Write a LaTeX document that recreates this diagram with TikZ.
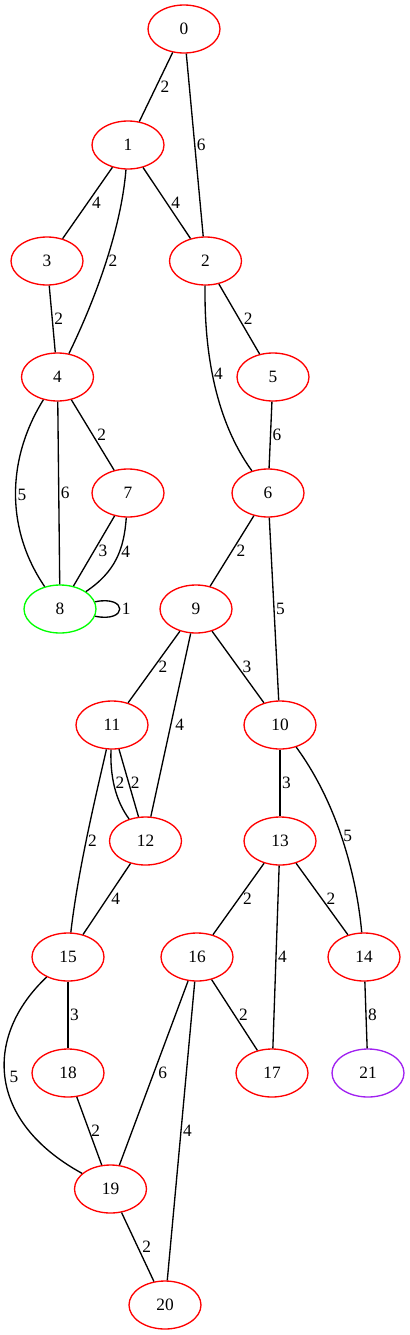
\documentclass[tikz,border=0pt]{standalone}
\usepackage{fontspec}
\setmainfont{Liberation Serif}
\usetikzlibrary{shapes.geometric}
\definecolor{gvred}{RGB}{255,0,0}
\definecolor{gvgreen}{RGB}{0,255,0}
\definecolor{gvpurple}{RGB}{160,32,240}

\begin{document}
\begin{tikzpicture}[x=0.75pt,y=-0.75pt,line width=1pt,font=\fontsize{13}{13}\selectfont,
    vertex/.style={draw=gvred, ellipse, minimum width=54pt, minimum height=36pt, inner sep=0pt},
    wt/.style={anchor=west, inner sep=1pt},
    wtd/.style={anchor=west, inner sep=3pt}]
    \useasboundingbox (0,0) rectangle (410,1335);

    \node[vertex] (0) at (184,29) {0};
    \node[vertex] (1) at (128,145) {1};
    \node[vertex] (3) at (47,261) {3};
    \node[vertex] (2) at (205.5,261) {2};
    \node[vertex] (4) at (57.5,377) {4};
    \node[vertex] (5) at (273,377) {5};
    \node[vertex] (7) at (128,493) {7};
    \node[vertex] (6) at (268,493) {6};
    \node[vertex, draw=gvgreen] (8) at (60,609) {8};
    \node[vertex] (9) at (196,609) {9};
    \node[vertex] (11) at (112,725) {11};
    \node[vertex] (10) at (280,725) {10};
    \node[vertex] (12) at (145.5,841) {12};
    \node[vertex] (13) at (280,841) {13};
    \node[vertex] (15) at (68,957) {15};
    \node[vertex] (16) at (197,957) {16};
    \node[vertex] (14) at (364,957) {14};
    \node[vertex] (18) at (68,1073) {18};
    \node[vertex] (17) at (272,1073) {17};
    \node[vertex, draw=gvpurple] (21) at (368,1073) {21};
    \node[vertex] (19) at (110.5,1189) {19};
    \node[vertex] (20) at (165,1305) {20};

    \draw (0) -- node[wtd] {2} (1);
    \draw (0) -- node[wt] {6} (2);
    \draw (1) -- node[wtd] {4} (3);
    \draw (1) -- node[wtd] {4} (2);
    \draw (1) .. controls (121,230) and (95,300) .. (4) node[wt, pos=0.48] {2};
    \draw (3) -- node[wt] {2} (4);
    \draw (2) -- node[wtd] {2} (5);
    \draw (2) .. controls (204,350) and (215,420) .. (6) node[wt, pos=0.45] {4};
    \draw (5) -- node[wt] {6} (6);
    \draw (4) -- node[wtd] {2} (7);
    \draw (4) .. controls (6,460) and (6,530) .. (8) node[wt, pos=0.5] {5};
    \draw (4) -- node[wt] {6} (8);
    \draw (7) -- node[wtd] {3} (8);
    \draw (7) .. controls (124,550) and (115,572) .. (8) node[wt, pos=0.4] {4};
    \draw (8) .. controls (128,595) and (128,623) .. (8) node[wt, pos=0.5] {1};
    \draw (6) -- node[wtd] {2} (9);
    \draw (6) -- node[wt] {5} (10);
    \draw (9) -- node[wtd] {2} (11);
    \draw (9) -- node[wtd] {3} (10);
    \draw (9) -- node[wtd] {4} (12);
    \draw (10) -- node[wt] {3} (13);
    \draw (10) .. controls (335,800) and (356,870) .. (14) node[wt, pos=0.5] {5};
    \draw (11) .. controls (110,775) and (115,800) .. (12) node[wt, pos=0.45] {2};
    \draw (11) -- node[wt] {2} (12);
    \draw (11) .. controls (96,795) and (78,870) .. (15) node[wt, pos=0.53] {2};
    \draw (12) -- node[wtd] {4} (15);
    \draw (13) -- node[wtd] {2} (16);
    \draw (13) -- node[wt] {4} (17);
    \draw (13) -- node[wtd] {2} (14);
    \draw (14) -- node[wt] {8} (21);
    \draw (15) -- node[wt] {3} (18);
    \draw (15) .. controls (-15,1035) and (-15,1120) .. (19) node[wtd, pos=0.5] {5};
    \draw (16) -- node[wtd] {2} (17);
    \draw (16) -- node[wtd] {6} (19);
    \draw (16) -- node[wt] {4} (20);
    \draw (18) -- node[wt] {2} (19);
    \draw (19) -- node[wtd] {2} (20);
\end{tikzpicture}
\end{document}
